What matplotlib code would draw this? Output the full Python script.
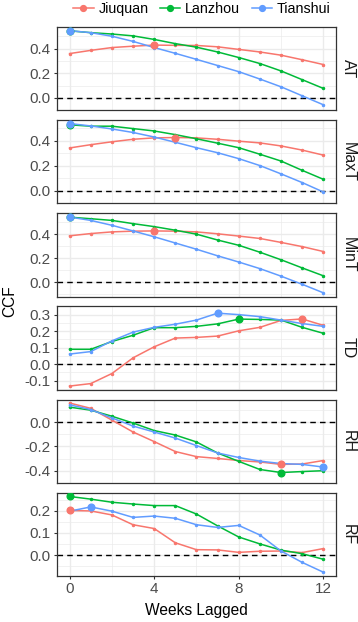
import numpy as np
import matplotlib
matplotlib.use("Agg")
import matplotlib.pyplot as plt
from matplotlib.lines import Line2D

plt.rcParams["font.family"] = ["Liberation Sans", "DejaVu Sans"]

weeks = list(range(13))
variables = ["AT", "MaxT", "MinT", "TD", "RH", "RF"]
cities = ["Jiuquan", "Lanzhou", "Tianshui"]
colors = {"Jiuquan": "#F8766D", "Lanzhou": "#00BA38", "Tianshui": "#619CFF"}

ccf = {
    "AT": {
        "Jiuquan": [0.361, 0.387, 0.410, 0.421, 0.430, 0.428, 0.427, 0.416, 0.395, 0.374, 0.348, 0.311, 0.272],
        "Lanzhou": [0.546, 0.531, 0.520, 0.505, 0.476, 0.442, 0.413, 0.374, 0.329, 0.280, 0.220, 0.149, 0.078],
        "Tianshui": [0.547, 0.531, 0.502, 0.460, 0.410, 0.363, 0.314, 0.264, 0.214, 0.154, 0.091, 0.018, -0.055],
    },
    "MaxT": {
        "Jiuquan": [0.341, 0.367, 0.390, 0.410, 0.421, 0.424, 0.421, 0.410, 0.395, 0.381, 0.357, 0.324, 0.284],
        "Lanzhou": [0.525, 0.514, 0.514, 0.495, 0.476, 0.447, 0.414, 0.379, 0.343, 0.291, 0.237, 0.163, 0.092],
        "Tianshui": [0.535, 0.516, 0.492, 0.464, 0.428, 0.386, 0.343, 0.303, 0.256, 0.201, 0.135, 0.066, -0.009],
    },
    "MinT": {
        "Jiuquan": [0.386, 0.405, 0.419, 0.425, 0.427, 0.425, 0.419, 0.403, 0.384, 0.364, 0.331, 0.296, 0.255],
        "Lanzhou": [0.542, 0.529, 0.515, 0.488, 0.463, 0.433, 0.400, 0.351, 0.307, 0.249, 0.186, 0.118, 0.052],
        "Tianshui": [0.543, 0.515, 0.474, 0.427, 0.378, 0.326, 0.274, 0.219, 0.167, 0.112, 0.049, -0.019, -0.090],
    },
    "TD": {
        "Jiuquan": [-0.133, -0.118, -0.057, 0.038, 0.105, 0.158, 0.162, 0.170, 0.202, 0.223, 0.265, 0.274, 0.235],
        "Lanzhou": [0.090, 0.090, 0.137, 0.175, 0.221, 0.221, 0.229, 0.244, 0.273, 0.271, 0.267, 0.223, 0.187],
        "Tianshui": [0.061, 0.076, 0.141, 0.194, 0.223, 0.242, 0.267, 0.309, 0.300, 0.288, 0.267, 0.246, 0.229],
    },
    "RH": {
        "Jiuquan": [0.158, 0.114, 0.017, -0.081, -0.160, -0.242, -0.284, -0.299, -0.316, -0.328, -0.348, -0.345, -0.316],
        "Lanzhou": [0.124, 0.099, 0.049, -0.007, -0.069, -0.106, -0.163, -0.254, -0.323, -0.390, -0.415, -0.407, -0.400],
        "Tianshui": [0.143, 0.104, 0.035, -0.032, -0.081, -0.131, -0.193, -0.254, -0.291, -0.321, -0.341, -0.348, -0.370],
    },
    "RF": {
        "Jiuquan": [0.201, 0.199, 0.181, 0.137, 0.120, 0.056, 0.025, 0.024, 0.013, 0.018, 0.019, 0.012, 0.030],
        "Lanzhou": [0.264, 0.252, 0.238, 0.230, 0.223, 0.223, 0.185, 0.132, 0.082, 0.051, 0.023, 0.007, -0.018],
        "Tianshui": [0.198, 0.217, 0.198, 0.170, 0.176, 0.166, 0.137, 0.125, 0.134, 0.091, 0.019, -0.032, -0.076],
    },
}

yticks = {
    "AT": [0.0, 0.2, 0.4],
    "MaxT": [0.0, 0.2, 0.4],
    "MinT": [0.0, 0.2, 0.4],
    "TD": [-0.1, 0.0, 0.1, 0.2, 0.3],
    "RH": [-0.4, -0.2, 0.0],
    "RF": [0.0, 0.1, 0.2],
}

fig = plt.figure(figsize=(3.58, 6.22), dpi=100)
gs = fig.add_gridspec(6, 1, left=0.159, right=0.9385, top=0.9566, bottom=0.0740, hspace=0.118)

grid_col = "#EBEBEB"
for i, var in enumerate(variables):
    ax = fig.add_subplot(gs[i])
    allv = np.concatenate([ccf[var][c] for c in cities] + [[0.0]])
    lo, hi = allv.min(), allv.max()
    pad = (hi - lo) * 0.05
    ax.set_ylim(lo - pad, hi + pad)
    ax.set_xlim(-0.6, 12.6)

    yt = yticks[var]
    step = yt[1] - yt[0]
    minor_y = [t + step / 2 for t in [yt[0] - step] + yt]
    ax.set_yticks(yt)
    ax.set_yticks(minor_y, minor=True)
    ax.set_xticks([0, 4, 8, 12])
    ax.set_xticks([2, 6, 10], minor=True)
    ax.grid(which="major", color=grid_col, linewidth=1.0)
    ax.grid(which="minor", color=grid_col, linewidth=0.5)
    ax.set_axisbelow(True)
    ax.tick_params(which="minor", length=0)
    ax.tick_params(which="major", length=2.5, width=0.8, color="#333333",
                   labelsize=11, labelcolor="#4D4D4D", pad=2)
    ax.set_yticklabels([f"{t:.1f}" for t in yt])
    if i < 5:
        ax.tick_params(axis="x", labelbottom=False, length=0)
    for s in ax.spines.values():
        s.set_color("#333333")
        s.set_linewidth(0.9)

    ax.axhline(0, color="black", linestyle=(0, (4, 3)), linewidth=1.0, zorder=2)

    for c in cities:
        vals = np.array(ccf[var][c])
        ax.plot(weeks, vals, color=colors[c], linewidth=1.1, marker="o", markersize=1.5, zorder=3)
        k = int(np.argmax(np.abs(vals)))
        ax.plot(weeks[k], vals[k], "o", color=colors[c], markersize=4.8, zorder=4)

    ax.text(1.043, 0.5, var, transform=ax.transAxes, rotation=-90, ha="center", va="center",
            fontsize=11.5, color="#1A1A1A")

fig.text(0.027, 0.515, "CCF", rotation=90, ha="center", va="center", fontsize=11.2)
fig.text(0.5485, 0.018, "Weeks Lagged", ha="center", va="center", fontsize=11.2)

handles = [Line2D([0], [0], color=colors[c], marker="o", markersize=4.2, linewidth=1.1) for c in cities]
fig.legend(handles, cities, loc="center", bbox_to_anchor=(0.564, 0.986), ncol=3, frameon=False,
           fontsize=10.3, handlelength=1.4, columnspacing=0.8, handletextpad=0.35)

fig.savefig("out.png", dpi=100)
